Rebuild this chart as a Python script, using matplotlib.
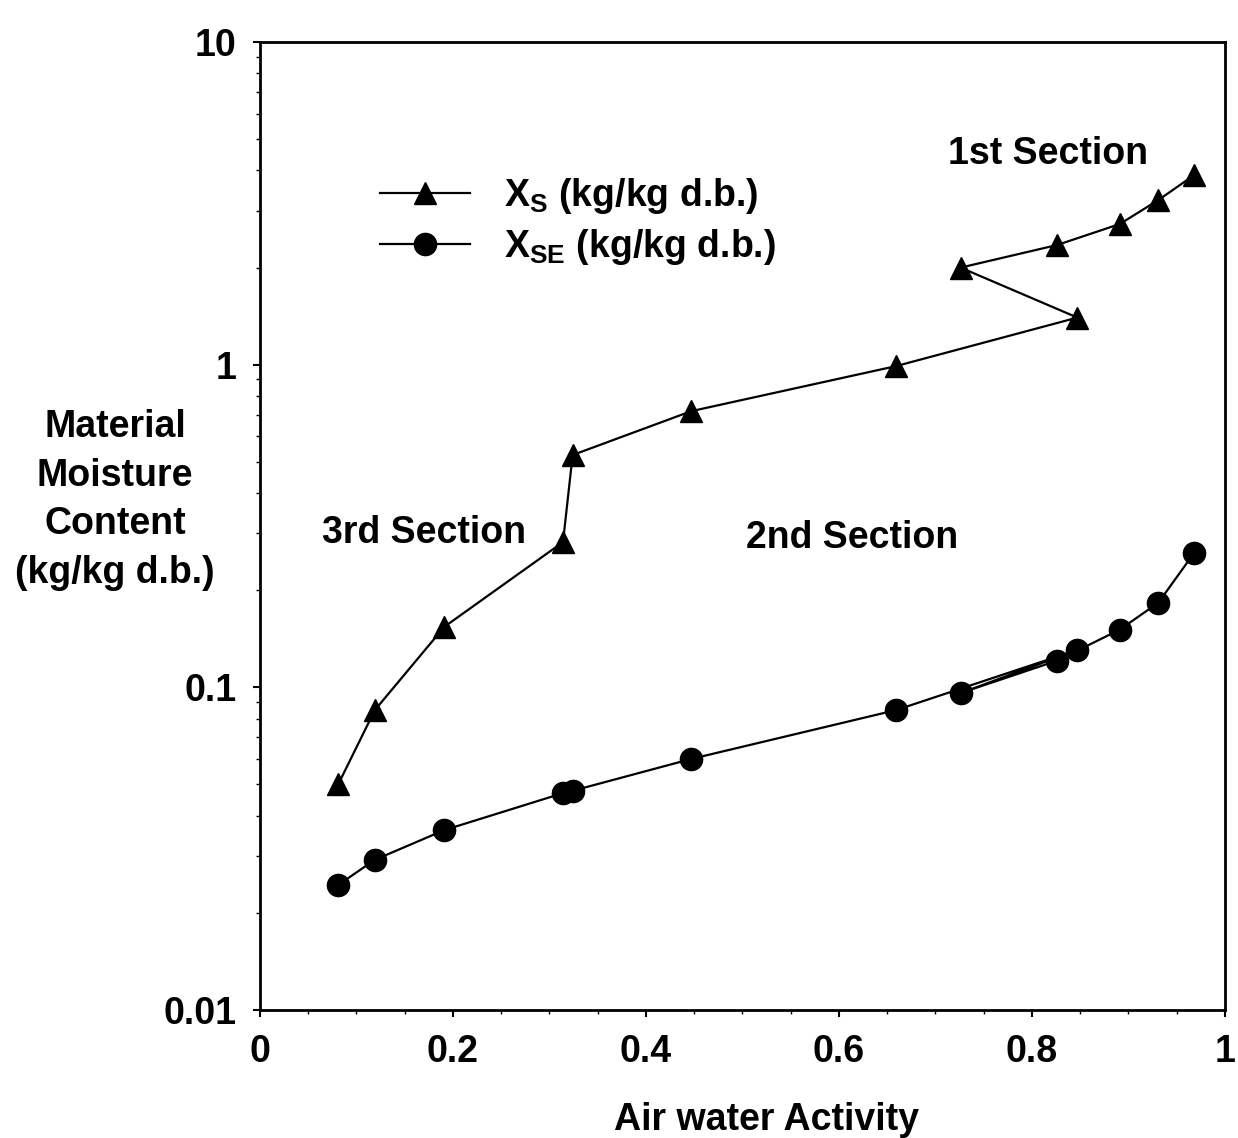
import numpy as np
import matplotlib.pyplot as plt
from matplotlib.ticker import MultipleLocator, LogLocator, NullFormatter

# lettura dei punti dal grafico (stessa sequenza per le due serie)
aw = [0.081, 0.119, 0.191, 0.314, 0.324, 0.447, 0.659, 0.847, 0.726, 0.826, 0.891, 0.931, 0.968]
xs = [0.050, 0.085, 0.154, 0.282, 0.525, 0.718, 0.99, 1.40, 2.00, 2.35, 2.73, 3.24, 3.87]
xse = [0.0244, 0.0292, 0.0361, 0.0470, 0.0478, 0.060, 0.085, 0.1306, 0.096, 0.121, 0.151, 0.183, 0.261]

etichette_y = ['0.01', '0.1', '1', '10']
valori_y = [0.01, 0.1, 1, 10]
etichette_x = ['0', '0.2', '0.4', '0.6', '0.8', '1']

plt.rcParams['font.family'] = ['Liberation Sans', 'DejaVu Sans']
plt.rcParams['font.weight'] = 'bold'
plt.rcParams['axes.labelweight'] = 'bold'
plt.rcParams['font.size'] = 27

fig = plt.figure(figsize=(12.38, 11.38), dpi=100)
ax = fig.add_axes([0.210, 0.1125, 0.7795, 0.8505])

ax.plot(aw, xs, color='black', lw=1.6, marker='^', ms=16, label=r'X$_\mathregular{S}$ (kg/kg d.b.)')
ax.plot(aw, xse, color='black', lw=1.6, marker='o', ms=16, label=r'X$_\mathregular{SE}$ (kg/kg d.b.)')

ax.set_yscale('log')
ax.set_ylim(0.01, 10)
ax.set_xlim(0, 1)
ax.set_yticks(valori_y, labels=etichette_y)
ax.yaxis.set_minor_locator(LogLocator(base=10, subs=np.arange(2, 10)))
ax.yaxis.set_minor_formatter(NullFormatter())
ax.set_xticks(np.linspace(0, 1, 6), labels=etichette_x)
ax.xaxis.set_minor_locator(MultipleLocator(0.05))
ax.tick_params(which='major', direction='out', length=5, width=1.5, pad=12)
ax.tick_params(which='minor', direction='out', length=3, width=1)
for s in ax.spines.values():
    s.set_linewidth(2)

ax.set_xlabel('Air water Activity')
ax.xaxis.set_label_coords(0.525, -0.095)
fig.text(115 / 1238, 1 - 500 / 1138, 'Material\nMoisture\nContent\n(kg/kg d.b.)',
         ha='center', va='center', linespacing=1.45)

# etichette delle sezioni
ax.text(0.817, 4.5, '1st Section', ha='center', va='center')
ax.text(0.17, 0.30, '3rd Section', ha='center', va='center')
ax.text(0.614, 0.29, '2nd Section', ha='center', va='center')

ax.legend(loc='upper left', bbox_to_anchor=(380 / 1238, 1 - 176 / 1138), bbox_transform=fig.transFigure,
          frameon=False, handlelength=2.4, handletextpad=0.9, labelspacing=0.3, borderpad=0, borderaxespad=0)

fig.savefig('out.png', dpi=100)
